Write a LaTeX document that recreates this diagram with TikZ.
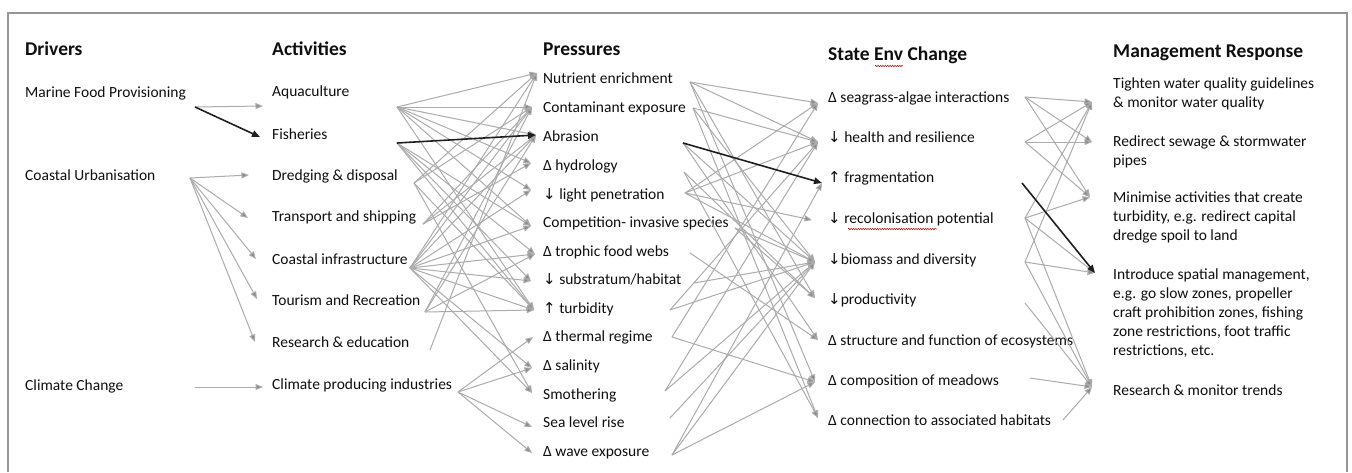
\documentclass[tikz,border=0pt]{standalone}
\usepackage{fontspec}
\setmainfont{Carlito}
\newfontfamily\arrfont{DejaVu Sans}
\usetikzlibrary{arrows.meta,decorations.pathmorphing}
\definecolor{lnc}{RGB}{172,172,172}
\definecolor{txc}{RGB}{15,15,15}
\definecolor{frc}{RGB}{150,150,150}
\newcommand{\dnar}{{\arrfont\fontsize{15}{17}\selectfont ↓}}
\newcommand{\upar}{{\arrfont\fontsize{15}{17}\selectfont ↑}}
\begin{document}
\begin{tikzpicture}[x=1pt,y=-1pt,
 lbl/.style={anchor=west,inner sep=0pt,text=txc,font=\fontsize{15.5}{19}\selectfont,text height=10.5pt,text depth=3.5pt},
 mg/.style={anchor=west,inner sep=0pt,text=txc,font=\fontsize{15.5}{19}\selectfont,align=left},
 hdr/.style={anchor=west,inner sep=0pt,text=txc,font=\fontsize{19.5}{23}\selectfont\bfseries},
 ga/.style={draw=lnc,line width=1pt,-{Triangle[length=7.5pt,width=6pt,fill=lnc!80!black]}},
 ba/.style={draw=black!88,line width=1.6pt,-{Triangle[length=8pt,width=6.5pt]}},
 squig/.style={draw=red!75!black,line width=0.5pt,decorate,decoration={snake,amplitude=0.7pt,segment length=2.4pt}},
]
\useasboundingbox (0,0) rectangle (1352,472);
\fill[white] (0,0) rectangle (1352,472);
\draw[frc,line width=2pt] (8,472) -- (8,13) -- (1347,13) -- (1347,472);

% headers
\node[hdr] (hD) at (25,49) {Drivers};
\node[hdr] (hA) at (272,49) {Activities};
\node[hdr] (hP) at (543,49) {Pressures};
\node[hdr] (hS) at (828,55) {State Env Change};
\node[hdr] (hM) at (1113,53) {Management Response};

% drivers
\node[lbl] (dMF) at (25,94) {Marine Food Provisioning};
\node[lbl] (dCU) at (25,177) {Coastal Urbanisation};
\node[lbl] (dCC) at (25,387) {Climate Change};

% activities
\node[lbl] (aAQ) at (272,93) {Aquaculture};
\node[lbl] (aFI) at (272,136) {Fisheries};
\node[lbl] (aDR) at (272,177) {Dredging \& disposal};
\node[lbl] (aTR) at (272,218) {Transport and shipping};
\node[lbl] (aCO) at (272,261) {Coastal infrastructure};
\node[lbl] (aTO) at (272,302) {Tourism and Recreation};
\node[lbl] (aRE) at (272,344) {Research \& education};
\node[lbl] (aCP) at (272,386) {Climate producing industries};

% pressures
\node[lbl] (pNE) at (543,80) {Nutrient enrichment};
\node[lbl] (pCE) at (543,109) {Contaminant exposure};
\node[lbl] (pAB) at (543,138) {Abrasion};
\node[lbl] (pHY) at (543,167) {Δ hydrology};
\node[lbl] (pLI) at (543,196) {\dnar\ light penetration};
\node[lbl] (pCM) at (543,224) {Competition- invasive species};
\node[lbl] (pTF) at (543,253) {Δ trophic food webs};
\node[lbl] (pSU) at (543,281) {\dnar\ substratum/habitat};
\node[lbl] (pTU) at (543,310) {\upar\ turbidity};
\node[lbl] (pTH) at (543,338) {Δ thermal regime};
\node[lbl] (pSA) at (543,367) {Δ salinity};
\node[lbl] (pSM) at (543,396) {Smothering};
\node[lbl] (pSL) at (543,424) {Sea level rise};
\node[lbl] (pWE) at (543,453) {Δ wave exposure};

% states
\node[lbl] (sSG) at (828,99) {Δ seagrass-algae interactions};
\node[lbl] (sHE) at (828,139) {\dnar\ health and resilience};
\node[lbl] (sFR) at (828,179) {\upar\ fragmentation};
\node[lbl] (sRC) at (828,220) {\dnar\ recolonisation potential};
\node[lbl] (sBI) at (828,261) {\dnar biomass and diversity};
\node[lbl] (sPR) at (828,301) {\dnar productivity};
\node[lbl] (sST) at (828,342) {Δ structure and function of ecosystems};
\node[lbl] (sCM) at (828,382) {Δ composition of meadows};
\node[lbl] (sCN) at (828,422) {Δ connection to associated habitats};

% management
\node[mg] (mT) at (1113,94) {Tighten water quality guidelines\\\& monitor water quality};
\node[mg] (mR) at (1113,152) {Redirect sewage \& stormwater\\pipes};
\node[mg] (mM) at (1113,217) {Minimise activities that create\\turbidity, e.g. redirect capital\\dredge spoil to land};
\node[mg] (mI) at (1113,313) {Introduce spatial management,\\e.g. go slow zones, propeller\\craft prohibition zones, fishing\\zone restrictions, foot traffic\\restrictions, etc.};
\node[mg] (mS) at (1113,390) {Research \& monitor trends};

% spell-check marks
\draw[squig] (875,66) -- (903,66);
\draw[squig] (848,229) -- (937,229);

% ports: drivers out
\coordinate (dMFo) at (195,107);
\coordinate (dCUo) at (190,178);
\coordinate (dCCo) at (195,387);
% activities in / out
\coordinate (aAQi) at (263,106);  \coordinate (aAQo) at (397,107);
\coordinate (aFIi) at (260,137);  \coordinate (aFIo) at (397,143);
\coordinate (aDRi) at (249,175);  \coordinate (aDRo) at (414,183);
\coordinate (aTRi) at (248,218);  \coordinate (aTRo) at (423,224);
\coordinate (aCOi) at (256,259);  \coordinate (aCOo) at (410,268);
\coordinate (aTOi) at (257,299);  \coordinate (aTOo) at (425,312);
\coordinate (aREi) at (255,342);  \coordinate (aREo) at (430,350);
\coordinate (aCPi) at (263,387);  \coordinate (aCPo) at (458,392);
% pressures in / out
\coordinate (pNEi) at (537,73);   \coordinate (pNEo) at (690,82);
\coordinate (pCEi) at (532,107);  \coordinate (pCEo) at (693,108);
\coordinate (pABi) at (536,135);  \coordinate (pABo) at (683,143);
\coordinate (pHYi) at (531,163);  \coordinate (pHYo) at (684,172);
\coordinate (pLIi) at (531,190);  \coordinate (pLIo) at (685,193);
\coordinate (pCMi) at (531,226);  \coordinate (pCMo) at (735,228);
\coordinate (pTFi) at (535,254);  \coordinate (pTFo) at (690,253);
\coordinate (pSUi) at (531,281);  \coordinate (pSUo) at (694,283);
\coordinate (pTUi) at (534,310);  \coordinate (pTUo) at (670,310);
\coordinate (pTHi) at (533,337);  \coordinate (pTHo) at (672,337);
\coordinate (pSAi) at (532,368);
\coordinate (pSMi) at (532,393);  \coordinate (pSMo) at (665,391);
\coordinate (pSLi) at (532,427);  \coordinate (pSLo) at (670,418);
\coordinate (pWEi) at (532,453);  \coordinate (pWEo) at (672,455);
% states in / out
\coordinate (sSGi) at (818,103);  \coordinate (sSGo) at (1025,97);
\coordinate (sHEi) at (818,142);  \coordinate (sHEo) at (1025,142);
\coordinate (sFRi) at (822,183);  \coordinate (sFRo) at (1022,183);
\coordinate (sRCi) at (812,220);  \coordinate (sRCo) at (1025,218);
\coordinate (sBIi) at (815,262);  \coordinate (sBIo) at (1025,262);
\coordinate (sPRi) at (815,298);  \coordinate (sPRo) at (1025,303);
\coordinate (sSTi) at (818,340);
\coordinate (sCMi) at (815,382);  \coordinate (sCMo) at (1030,378);
\coordinate (sCNi) at (818,418);  \coordinate (sCNo) at (1063,420);
% management in
\coordinate (mTi) at (1092,102);
\coordinate (mRi) at (1092,142);
\coordinate (mMi) at (1090,197);
\coordinate (mIi) at (1095,273);
\coordinate (mSi) at (1092,387);

% drivers -> activities
\foreach \a/\b in {dMF/aAQ, dCU/aDR, dCU/aTR, dCU/aCO, dCU/aTO, dCU/aRE, dCC/aCP}
  \draw[ga] (\a o) -- (\b i);

% activities -> pressures
\foreach \a/\b in {aAQ/pNE, aAQ/pCE, aAQ/pAB, aAQ/pHY, aAQ/pLI, aAQ/pCM, aAQ/pTU,
  aFI/pCM, aFI/pTF, aFI/pSU, aFI/pTU,
  aDR/pNE, aDR/pCE, aDR/pTU, aDR/pSM,
  aTR/pCE, aTR/pAB, aTR/pHY,
  aCO/pNE, aCO/pCE, aCO/pAB, aCO/pLI, aCO/pCM, aCO/pTF, aCO/pSU, aCO/pTU, aCO/pSA, aCO/pSM,
  aTO/pCE, aTO/pAB, aTO/pTF, aTO/pTU,
  aRE/pNE,
  aCP/pTH, aCP/pSA, aCP/pSL, aCP/pWE}
  \draw[ga] (\a o) -- (\b i);

% pressures -> states
\foreach \a/\b in {pNE/sSG, pNE/sHE, pNE/sPR, pNE/sCM,
  pCE/sHE, pCE/sBI, pCE/sCN,
  pAB/sBI, pAB/sST,
  pHY/sPR, pHY/sCN,
  pLI/sSG, pLI/sHE, pLI/sRC, pLI/sBI,
  pCM/sBI, pCM/sPR,
  pTF/sST,
  pSU/sBI,
  pTU/sHE, pTU/sBI,
  pTH/sSG, pTH/sCM,
  pSM/sHE, pSM/sBI,
  pSL/sBI,
  pWE/sFR, pWE/sBI, pWE/sCM}
  \draw[ga] (\a o) -- (\b i);

% states -> management
\foreach \a/\b in {sSG/mT, sSG/mR, sSG/mM, sHE/mT, sHE/mR, sHE/mM,
  sRC/mT, sRC/mM, sRC/mI, sRC/mS,
  sBI/mT, sBI/mI, sBI/mS,
  sPR/mS, sCM/mS, sCN/mS}
  \draw[ga] (\a o) -- (\b i);

% highlighted pathway
\draw[ba] (dMFo) -- (aFIi);
\draw[ba] (aFIo) -- (pABi);
\draw[ba] (pABo) -- (sFRi);
\draw[ba] (sFRo) -- (mIi);
\end{tikzpicture}
\end{document}
